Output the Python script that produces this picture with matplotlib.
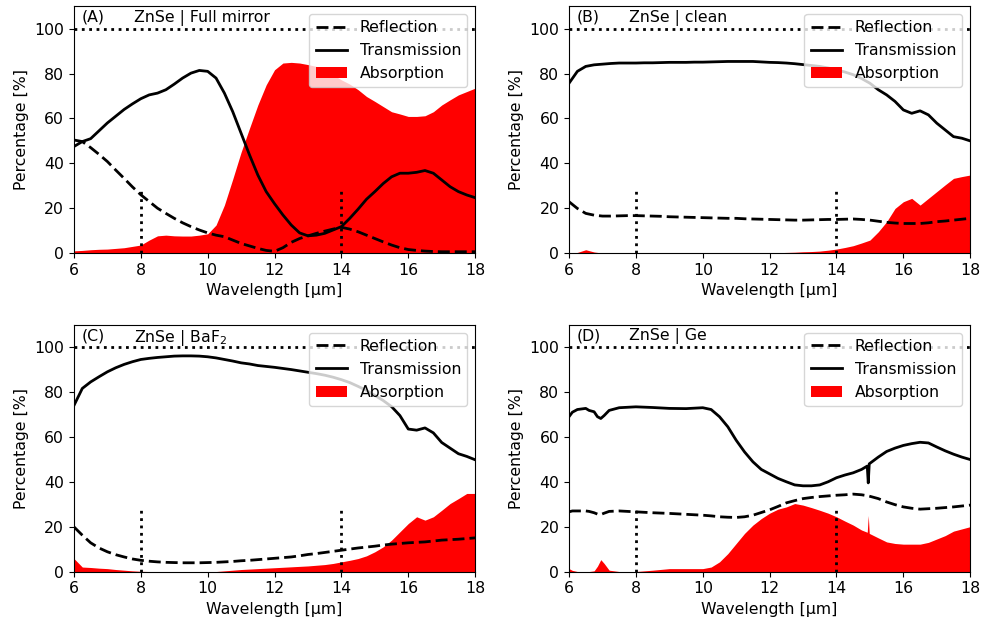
import numpy as np
import matplotlib
matplotlib.use("Agg")
import matplotlib.pyplot as plt

# wavelength grid for panels A-C (0.25 um steps)
wl = np.linspace(6, 18, 49)

# (A) ZnSe | Full mirror
refl_a = [50.4, 49.7, 47.0, 44.0,
          40.8, 37.0, 33.3, 29.5,
          26.0, 23.0, 20.0, 17.7,
          15.5, 13.5, 11.8, 10.3,
          9.0, 8.0, 7.3, 5.8,
          4.3, 3.2, 2.1, 1.2,
          0.8, 2.4, 4.8, 6.5,
          7.7, 8.8, 9.8, 10.7,
          11.5, 10.7, 9.5, 8.0,
          6.5, 5.0, 3.6, 2.4,
          1.6, 1.2, 0.9, 0.7,
          0.6, 0.6, 0.6, 0.6,
          0.6]
trans_a = [47.5, 49.7, 51.0, 54.5,
           58.0, 61.0, 64.0, 66.5,
           68.8, 70.5, 71.3, 72.8,
           75.3, 78.0, 80.2, 81.4,
           81.0, 78.0, 71.3, 63.0,
           53.4, 43.8, 34.8, 27.4,
           22.0, 17.0, 12.5, 9.0,
           7.7, 8.0, 8.8, 10.3,
           11.8, 15.5, 19.6, 24.0,
           27.4, 31.0, 34.0, 35.6,
           35.6, 36.0, 36.8, 35.6,
           32.6, 29.6, 27.4, 25.9,
           24.7]
absorb_a = [1.0, 1.2, 1.5, 1.7,
            1.8, 2.1, 2.4, 3.0,
            3.6, 5.8, 7.7, 8.0,
            7.7, 7.6, 7.6, 8.0,
            8.6, 12.5, 21.4, 33.0,
            45.0, 55.6, 66.0, 75.0,
            81.7, 84.7, 85.0, 84.7,
            84.0, 83.2, 81.7, 79.5,
            77.2, 75.3, 72.8, 69.8,
            67.6, 65.3, 63.0, 62.0,
            60.9, 60.9, 61.2, 63.0,
            66.0, 68.3, 70.5, 72.0,
            73.5]

# (B) ZnSe | clean
refl_b = [22.9, 19.9, 17.7, 16.9,
          16.5, 16.5, 16.6, 16.7,
          16.7, 16.6, 16.5, 16.4,
          16.2, 16.1, 16.0, 15.9,
          15.8, 15.7, 15.6, 15.5,
          15.5, 15.3, 15.2, 15.1,
          15.0, 14.9, 14.8, 14.7,
          14.7, 14.8, 14.9, 15.0,
          15.0, 15.1, 15.2, 15.0,
          14.7, 14.2, 13.7, 13.4,
          13.2, 13.2, 13.2, 13.5,
          14.0, 14.3, 14.7, 15.1,
          15.5]
trans_b = [75.7, 81.0, 83.2, 83.9,
           84.2, 84.5, 84.7, 84.7,
           84.7, 84.8, 84.8, 84.9,
           85.0, 85.0, 85.0, 85.1,
           85.1, 85.2, 85.3, 85.4,
           85.4, 85.4, 85.4, 85.2,
           85.0, 84.9, 84.7, 84.4,
           84.0, 83.6, 83.2, 82.5,
           81.7, 80.7, 79.5, 77.8,
           75.7, 72.8, 70.5, 67.6,
           63.8, 62.3, 63.4, 61.6,
           57.9, 54.9, 51.9, 51.2,
           50.0]
absorb_b = [0.0, 0.3, 1.5, 0.5,
            0.0, 0.0, 0.0, 0.0,
            0.0, 0.0, 0.0, 0.0,
            0.0, 0.0, 0.0, 0.0,
            0.0, 0.0, 0.0, 0.0,
            0.0, 0.0, 0.0, 0.0,
            0.1, 0.2, 0.3, 0.4,
            0.6, 0.7, 0.9, 1.3,
            1.8, 2.5, 3.3, 4.5,
            5.8, 9.5, 14.0, 19.9,
            22.9, 24.4, 21.4, 24.4,
            27.4, 30.4, 33.3, 34.1,
            34.8]

# (C) ZnSe | BaF2
refl_c = [19.9, 16.2, 12.8, 10.5,
          8.8, 7.5, 6.5, 5.6,
          5.0, 4.6, 4.3, 4.1,
          4.0, 3.9, 3.9, 3.9,
          4.0, 4.1, 4.3, 4.5,
          4.8, 5.0, 5.3, 5.6,
          5.9, 6.2, 6.5, 7.0,
          7.6, 8.0, 8.5, 9.0,
          9.5, 10.0, 10.5, 10.9,
          11.3, 11.8, 12.2, 12.5,
          12.8, 13.0, 13.2, 13.6,
          14.0, 14.2, 14.4, 14.7,
          15.0]
trans_c = [74.0, 81.6, 84.5, 86.8,
           89.0, 90.8, 92.3, 93.5,
           94.5, 95.0, 95.4, 95.7,
           96.0, 96.1, 96.1, 96.0,
           95.7, 95.2, 94.5, 93.8,
           93.0, 92.5, 91.8, 91.4,
           91.0, 90.5, 90.0, 89.4,
           88.8, 88.2, 87.5, 86.6,
           85.5, 84.2, 82.5, 80.7,
           78.5, 76.2, 73.5, 69.5,
           63.5, 63.0, 64.0, 61.8,
           57.5, 55.0, 52.5, 51.3,
           49.8]
absorb_c = [5.8, 2.0, 1.8, 1.5,
            1.3, 0.9, 0.6, 0.3,
            0.1, 0.0, 0.0, 0.0,
            0.0, 0.0, 0.0, 0.0,
            0.0, 0.0, 0.3, 0.6,
            0.9, 1.1, 1.3, 1.5,
            1.7, 1.9, 2.1, 2.3,
            2.5, 2.8, 3.1, 3.6,
            4.3, 5.0, 5.8, 7.0,
            8.8, 11.0, 14.0, 17.7,
            21.4, 24.4, 22.9, 24.4,
            27.3, 30.3, 32.5, 34.8,
            34.8]

# (D) ZnSe | Ge  -- own grid, denser around the features at ~6.9 and ~15 um
wl_d = [6.0, 6.1, 6.25, 6.4, 6.5, 6.6, 6.75, 6.85, 6.95, 7.05,
        7.2, 7.5, 7.75, 8.0, 8.5, 9.0, 9.5, 10.0, 10.25, 10.5,
        10.75, 11.0, 11.25, 11.5, 11.75, 12.0, 12.25, 12.5, 12.75, 13.0,
        13.25, 13.5, 13.75, 14.0, 14.25, 14.5, 14.75, 14.92, 14.95, 14.98,
        15.25, 15.5, 15.75, 16.0, 16.25, 16.5, 16.75, 17.0, 17.25, 17.5,
        17.75, 18.0]
refl_d = [26.6, 27.0, 27.0, 27.0, 27.0, 26.8, 26.2, 25.6, 25.4, 26.0,
          26.8, 27.0, 26.8, 26.6, 26.2, 25.9, 25.5, 25.1, 24.8, 24.4,
          24.2, 24.1, 24.4, 25.1, 26.3, 27.5, 29.0, 30.6, 31.6, 32.5,
          33.0, 33.4, 33.7, 34.0, 34.2, 34.5, 34.2, 33.8, 33.7, 33.6,
          32.5, 31.0, 29.8, 28.8, 28.2, 27.8, 28.0, 28.2, 28.5, 28.8,
          29.2, 29.6]
trans_d = [69.0, 71.0, 72.2, 72.5, 72.7, 71.8, 71.2, 69.0, 68.2, 69.5,
           71.8, 73.0, 73.2, 73.4, 73.1, 72.7, 72.6, 73.0, 72.2, 69.0,
           64.5, 58.5, 53.3, 48.9, 45.5, 43.5, 41.5, 40.0, 38.6, 38.2,
           38.2, 38.6, 40.0, 41.8, 43.0, 44.0, 45.5, 47.0, 39.5, 48.0,
           51.0, 53.5, 55.0, 56.2, 57.0, 57.6, 57.3, 55.5, 53.8, 52.3,
           51.0, 49.9]
absorb_d = [1.3, 0.5, 0.0, 0.0, 0.0, 0.0, 0.3, 2.4, 5.3, 3.6,
            0.6, 0.0, 0.0, 0.0, 0.6, 1.3, 1.3, 1.3, 2.0, 4.3,
            8.0, 12.5, 17.0, 20.7, 23.6, 26.0, 27.8, 28.8, 30.3, 29.6,
            28.5, 27.3, 26.0, 24.4, 22.5, 20.7, 18.5, 17.5, 25.0, 17.0,
            15.0, 13.2, 12.5, 12.2, 12.2, 12.2, 13.0, 14.5, 16.0, 18.0,
            19.0, 20.0]

labels = ["(A)", "(B)", "(C)", "(D)"]
titles = ["ZnSe | Full mirror", "ZnSe | clean", "ZnSe | BaF$_2$", "ZnSe | Ge"]
panels = [(wl, refl_a, trans_a, absorb_a),
          (wl, refl_b, trans_b, absorb_b),
          (wl, refl_c, trans_c, absorb_c),
          (wl_d, refl_d, trans_d, absorb_d)]

plt.rcParams["font.size"] = 11.3

fig, axes = plt.subplots(2, 2, figsize=(9.86, 6.26), dpi=100)
fig.subplots_adjust(left=0.075, right=0.984, top=0.990, bottom=0.087,
                    wspace=0.234, hspace=0.29)

for ax, lab, title, (x, r, t, a) in zip(axes.flat, labels, titles, panels):
    ax.fill_between(x, 0, a, color="red", lw=0, label="Absorption")
    ax.plot(x, r, "k--", lw=2, dashes=(4.3, 1.8), label="Reflection")
    ax.plot(x, t, "k-", lw=2, label="Transmission")
    ax.axhline(100, color="k", ls=":", lw=2)
    ax.vlines([8, 14], 0, 29, colors="k", linestyles=":", lw=2)

    ax.set_xlim(6, 18)
    ax.set_ylim(0, 110)
    ax.set_xticks([6, 8, 10, 12, 14, 16, 18])
    ax.set_yticks([0, 20, 40, 60, 80, 100])
    ax.set_xlabel("Wavelength [µm]")
    ax.set_ylabel("Percentage [%]")

    ax.text(0.02, 0.985, lab, transform=ax.transAxes, va="top")
    ax.text(0.15, 0.985, title, transform=ax.transAxes, va="top")

    h, l = ax.get_legend_handles_labels()
    order = [1, 2, 0]
    ax.legend([h[i] for i in order], [l[i] for i in order], loc="upper right")

fig.savefig("out.png", dpi=100)
